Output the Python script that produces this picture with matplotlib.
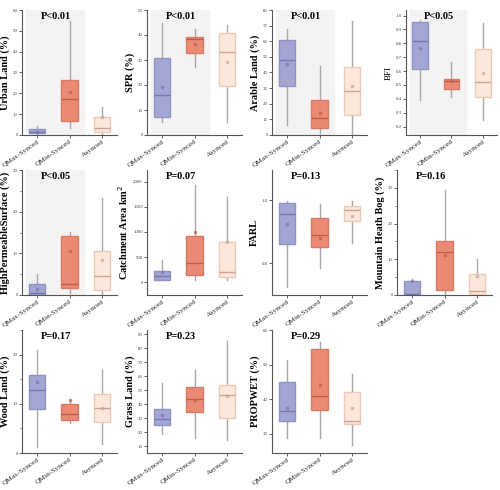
import matplotlib.pyplot as plt
from matplotlib.ticker import MultipleLocator

plt.rcParams['font.family'] = ['Liberation Serif', 'DejaVu Serif']

groups = ['QMax-Synced', 'QMin-Synced', 'Asynced']
ylabels = ['Urban Land (%)', 'SPR (%)', 'Arable Land (%)', 'BFI',
           'HighPermeableSurface (%)', 'Catchment Area km$^2$', 'FARL',
           'Mountain Heath Bog (%)', 'Wood Land (%)', 'Grass Land (%)',
           'PROPWET (%)']
ptexts = ['P<0.01', 'P<0.01', 'P<0.01', 'P<0.05', 'P<0.05', 'P=0.07',
          'P=0.13', 'P=0.16', 'P=0.17', 'P=0.23', 'P=0.29']

# box statistics per panel: [QMax, QMin, Asynced]
whislo = [[0, 3.5, 0.5], [5, 27, 5], [6.5, 1.5, 0], [0.39, 0.41, 0.25],
          [0, 0.5, 0], [40, 50, 40], [0.725, 0.785, 0.865], [0, 0, 0],
          [1.3, 6.1, 1.8], [18.6, 15.7, 14.8], [28.9, 28.9, 26.7]]
q1 = [[0.8, 6.9, 1.3], [7, 32.6, 19.6], [31.1, 4.5, 13.1], [0.615, 0.47, 0.417],
      [0, 1.6, 1.3], [55, 146, 100], [0.861, 0.853, 0.935], [0.2, 1.3, 0.2],
      [8.9, 6.8, 6.4], [25.3, 34.6, 30.3], [33.8, 37.0, 32.9]]
med = [[1.5, 17.2, 3.4], [16.1, 38.2, 33.2], [47.9, 10.7, 28.1], [0.818, 0.527, 0.52],
       [0.5, 2.6, 4.5], [120, 385, 199], [0.956, 0.891, 0.97], [0.3, 12, 1.0],
       [12.9, 7.9, 9.1], [29.8, 43.7, 46.5], [36.5, 41.0, 33.8]]
q3 = [[3, 26.4, 8.5], [30.8, 39.1, 40.9], [60.7, 22.1, 43.6], [0.955, 0.546, 0.756],
      [2.56, 14.1, 10.5], [219, 924, 811], [0.993, 0.945, 0.983], [4.0, 15.1, 5.8],
      [15.9, 10, 12], [36.5, 52.2, 53.7], [45.1, 54.4, 42.0]]
whishi = [[4.3, 54.7, 13.3], [44.6, 42.5, 43.8], [67.6, 44, 73], [0.967, 0.666, 0.943],
          [5, 15.2, 23.3], [438, 1934, 1701], [0.998, 0.989, 0.998], [4.5, 29.5, 10],
          [21, 10.8, 16.8], [55.3, 64.2, 84.9], [51.3, 56.4, 47.2]]
means = [[1.5, 20.4, 8.5], [19.2, 36.2, 29.2], [45.3, 14, 31.3], [0.768, 0.53, 0.584],
         [1.5, 10.5, 8.4], [199, 997, 804], [0.926, 0.879, 0.95], [4.0, 11.3, 5.3],
         [14.4, 10.7, 9.1], [32.4, 42.7, 45.6], [37.6, 44.0, 37.5]]

ylims = [(0, 60), (0, 50), (0, 80), (0.14, 1.04), (0, 30), (-250, 2230),
         (0.70, 1.096), (0, 35), (0, 25), (5.2, 93), (24.5, 60)]
ysteps = [10, 10, 10, 0.1, 10, 500, 0.2, 10, 10, 10, 10]

face = ['#a3a6d3', '#ea8a73', '#fde7da']
edge = ['#8f93c4', '#d97a64', '#edc9b8']
medc = ['#7478ab', '#b9604c', '#c9a493']

W, H = 500, 490
lefts = [22, 147, 272, 397]
rows = [(10, 135), (170, 295), (330, 453)]

fig = plt.figure(figsize=(5, 4.9), dpi=100)

for i in range(11):
    r, c = divmod(i, 4)
    left = lefts[c]
    width = 95
    if i == 3:
        left, width = 406, 91
    top, bot = rows[r]
    ax = fig.add_axes([left / W, 1 - bot / H, width / W, (bot - top) / H])

    stats = []
    for j in range(3):
        stats.append(dict(med=med[i][j], q1=q1[i][j], q3=q3[i][j],
                          whislo=whislo[i][j], whishi=whishi[i][j],
                          mean=means[i][j], fliers=[]))
    bp = ax.bxp(stats, positions=[0, 1, 2], widths=0.5, patch_artist=True,
                showmeans=True, showcaps=False, showfliers=False)
    for j in range(3):
        bp['boxes'][j].set_facecolor(face[j])
        bp['boxes'][j].set_edgecolor(edge[j])
        bp['boxes'][j].set_linewidth(1)
        bp['boxes'][j].set_zorder(3)
        bp['medians'][j].set_color(medc[j])
        bp['medians'][j].set_linewidth(1)
        bp['medians'][j].set_zorder(4)
        bp['means'][j].set_marker('s')
        bp['means'][j].set_markersize(2)
        bp['means'][j].set_markerfacecolor(medc[j])
        bp['means'][j].set_markeredgecolor(medc[j])
        bp['means'][j].set_alpha(0.6)
        bp['means'][j].set_zorder(5)
    for w in bp['whiskers']:
        w.set_color('#a8a8a8')
        w.set_linewidth(1)
        w.set_zorder(2)

    if i < 5:
        ax.axvspan(-0.32, 1.45, color='#f3f3f3', zorder=0)

    ax.set_xlim(-0.45, 2.45)
    ax.set_ylim(*ylims[i])
    ax.yaxis.set_major_locator(MultipleLocator(ysteps[i]))
    if i in (4, 7, 8):
        ax.yaxis.set_minor_locator(MultipleLocator(ysteps[i] / 2))
    ax.set_xticks([0, 1, 2])
    ax.set_xticklabels(groups, rotation=35, ha='right', rotation_mode='anchor',
                       fontsize=5.3)
    ax.tick_params(axis='y', labelsize=3.5, length=2, width=0.6, pad=1,
                   colors='#444444')
    ax.tick_params(axis='y', which='minor', length=1.2, width=0.5, colors='#444444')
    ax.tick_params(axis='x', length=2, width=0.6, pad=1, labelcolor='#222222',
                   color='#444444')
    for s in ('top', 'right'):
        ax.spines[s].set_visible(False)
    for s in ('left', 'bottom'):
        ax.spines[s].set_color('#555555')
        ax.spines[s].set_linewidth(0.8)

    if i == 3:
        ax.set_ylabel(ylabels[i], fontsize=6.5, labelpad=2)
    else:
        ax.set_ylabel(ylabels[i], fontsize=7.4, fontweight='bold', labelpad=2)
    ax.text(0.36, 0.985, ptexts[i], transform=ax.transAxes, ha='center',
            va='top', fontsize=7.5, fontweight='bold')

fig.savefig('out.png', dpi=100)
